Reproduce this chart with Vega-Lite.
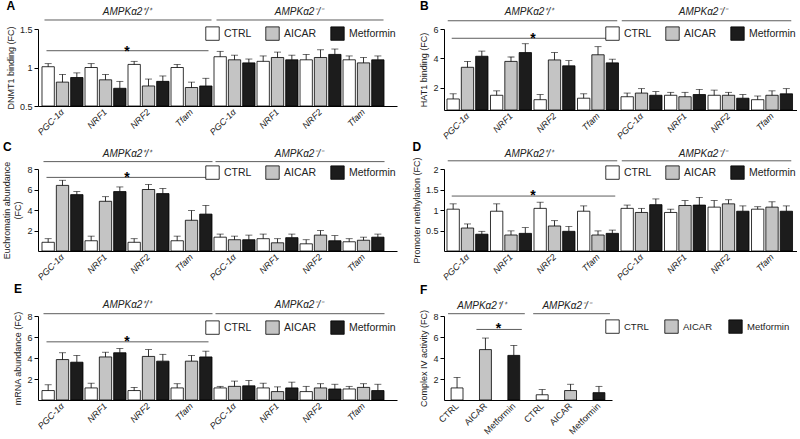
{
"$schema":"https://vega.github.io/schema/vega-lite/v6.json",
"padding":{"left":2,"top":0,"right":0,"bottom":0},
"config":{"font":"Liberation Sans","view":{"stroke":null},
 "title":{"anchor":"start","frame":"bounds","fontSize":12,"fontWeight":"bold","offset":-3,"color":"black"},
 "axis":{"grid":false,"domainColor":"black","tickColor":"black","tickSize":4,"labelFontSize":9,"titleFontSize":9,"titleFontWeight":"normal","labelColor":"#222","titleColor":"#222","labelPadding":2,"titlePadding":4,"labelOverlap":false},
 "axisX":{"ticks":false,"labelAngle":-45,"labelAlign":"right","labelBaseline":"middle","labelPadding":4},
 "text":{"align":"center","baseline":"middle"},
 "legend":{"orient":"none","direction":"horizontal","symbolType":"square","symbolSize":180,"symbolStrokeColor":"black","symbolStrokeWidth":0.8,"labelFontSize":10.5,"labelOffset":4,"columnPadding":12,"padding":0,"labelColor":"#222"}
},
"datasets":{
"dA":[
{"cat":"PGC-1α|WT","treatment":"CTRL","value":1.01,"upper":1.05},{"cat":"PGC-1α|WT","treatment":"AICAR","value":0.81,"upper":0.91},{"cat":"PGC-1α|WT","treatment":"Metformin","value":0.87,"upper":0.93},
{"cat":"NRF1|WT","treatment":"CTRL","value":1.0,"upper":1.05},{"cat":"NRF1|WT","treatment":"AICAR","value":0.84,"upper":0.91},{"cat":"NRF1|WT","treatment":"Metformin","value":0.73,"upper":0.82},
{"cat":"NRF2|WT","treatment":"CTRL","value":1.04,"upper":1.08},{"cat":"NRF2|WT","treatment":"AICAR","value":0.76,"upper":0.85},{"cat":"NRF2|WT","treatment":"Metformin","value":0.82,"upper":0.89},
{"cat":"Tfam|WT","treatment":"CTRL","value":1.0,"upper":1.04},{"cat":"Tfam|WT","treatment":"AICAR","value":0.74,"upper":0.81},{"cat":"Tfam|WT","treatment":"Metformin","value":0.76,"upper":0.86},
{"cat":"PGC-1α|KO","treatment":"CTRL","value":1.14,"upper":1.21},{"cat":"PGC-1α|KO","treatment":"AICAR","value":1.10,"upper":1.16},{"cat":"PGC-1α|KO","treatment":"Metformin","value":1.06,"upper":1.11},
{"cat":"NRF1|KO","treatment":"CTRL","value":1.08,"upper":1.15},{"cat":"NRF1|KO","treatment":"AICAR","value":1.13,"upper":1.20},{"cat":"NRF1|KO","treatment":"Metformin","value":1.10,"upper":1.16},
{"cat":"NRF2|KO","treatment":"CTRL","value":1.10,"upper":1.17},{"cat":"NRF2|KO","treatment":"AICAR","value":1.13,"upper":1.23},{"cat":"NRF2|KO","treatment":"Metformin","value":1.17,"upper":1.24},
{"cat":"Tfam|KO","treatment":"CTRL","value":1.10,"upper":1.15},{"cat":"Tfam|KO","treatment":"AICAR","value":1.06,"upper":1.13},{"cat":"Tfam|KO","treatment":"Metformin","value":1.10,"upper":1.15}],
"dB":[
{"cat":"PGC-1α|WT","treatment":"CTRL","value":1.25,"upper":1.6},{"cat":"PGC-1α|WT","treatment":"AICAR","value":3.4,"upper":3.8},{"cat":"PGC-1α|WT","treatment":"Metformin","value":4.15,"upper":4.5},
{"cat":"NRF1|WT","treatment":"CTRL","value":1.5,"upper":1.8},{"cat":"NRF1|WT","treatment":"AICAR","value":3.8,"upper":4.1},{"cat":"NRF1|WT","treatment":"Metformin","value":4.4,"upper":5.0},
{"cat":"NRF2|WT","treatment":"CTRL","value":1.2,"upper":1.55},{"cat":"NRF2|WT","treatment":"AICAR","value":3.9,"upper":4.4},{"cat":"NRF2|WT","treatment":"Metformin","value":3.5,"upper":3.85},
{"cat":"Tfam|WT","treatment":"CTRL","value":1.3,"upper":1.6},{"cat":"Tfam|WT","treatment":"AICAR","value":4.25,"upper":4.8},{"cat":"Tfam|WT","treatment":"Metformin","value":3.7,"upper":3.95},
{"cat":"PGC-1α|KO","treatment":"CTRL","value":1.4,"upper":1.65},{"cat":"PGC-1α|KO","treatment":"AICAR","value":1.65,"upper":1.95},{"cat":"PGC-1α|KO","treatment":"Metformin","value":1.5,"upper":1.75},
{"cat":"NRF1|KO","treatment":"CTRL","value":1.5,"upper":1.7},{"cat":"NRF1|KO","treatment":"AICAR","value":1.4,"upper":1.7},{"cat":"NRF1|KO","treatment":"Metformin","value":1.55,"upper":1.9},
{"cat":"NRF2|KO","treatment":"CTRL","value":1.5,"upper":1.85},{"cat":"NRF2|KO","treatment":"AICAR","value":1.5,"upper":1.7},{"cat":"NRF2|KO","treatment":"Metformin","value":1.3,"upper":1.55},
{"cat":"Tfam|KO","treatment":"CTRL","value":1.2,"upper":1.45},{"cat":"Tfam|KO","treatment":"AICAR","value":1.5,"upper":1.8},{"cat":"Tfam|KO","treatment":"Metformin","value":1.6,"upper":1.95}],
"dC":[
{"cat":"PGC-1α|WT","treatment":"CTRL","value":0.85,"upper":1.2},{"cat":"PGC-1α|WT","treatment":"AICAR","value":6.4,"upper":6.9},{"cat":"PGC-1α|WT","treatment":"Metformin","value":5.5,"upper":5.8},
{"cat":"NRF1|WT","treatment":"CTRL","value":1.0,"upper":1.45},{"cat":"NRF1|WT","treatment":"AICAR","value":4.85,"upper":5.3},{"cat":"NRF1|WT","treatment":"Metformin","value":5.8,"upper":6.25},
{"cat":"NRF2|WT","treatment":"CTRL","value":0.85,"upper":1.2},{"cat":"NRF2|WT","treatment":"AICAR","value":6.0,"upper":6.5},{"cat":"NRF2|WT","treatment":"Metformin","value":5.6,"upper":6.1},
{"cat":"Tfam|WT","treatment":"CTRL","value":1.0,"upper":1.45},{"cat":"Tfam|WT","treatment":"AICAR","value":3.0,"upper":3.95},{"cat":"Tfam|WT","treatment":"Metformin","value":3.6,"upper":4.45},
{"cat":"PGC-1α|KO","treatment":"CTRL","value":1.35,"upper":1.65},{"cat":"PGC-1α|KO","treatment":"AICAR","value":1.1,"upper":1.45},{"cat":"PGC-1α|KO","treatment":"Metformin","value":1.1,"upper":1.55},
{"cat":"NRF1|KO","treatment":"CTRL","value":1.2,"upper":1.65},{"cat":"NRF1|KO","treatment":"AICAR","value":0.8,"upper":1.2},{"cat":"NRF1|KO","treatment":"Metformin","value":1.3,"upper":1.65},
{"cat":"NRF2|KO","treatment":"CTRL","value":0.7,"upper":1.1},{"cat":"NRF2|KO","treatment":"AICAR","value":1.55,"upper":2.0},{"cat":"NRF2|KO","treatment":"Metformin","value":1.0,"upper":1.5},
{"cat":"Tfam|KO","treatment":"CTRL","value":0.9,"upper":1.2},{"cat":"Tfam|KO","treatment":"AICAR","value":1.05,"upper":1.35},{"cat":"Tfam|KO","treatment":"Metformin","value":1.35,"upper":1.65}],
"dD":[
{"cat":"PGC-1α|WT","treatment":"CTRL","value":1.02,"upper":1.15},{"cat":"PGC-1α|WT","treatment":"AICAR","value":0.56,"upper":0.66},{"cat":"PGC-1α|WT","treatment":"Metformin","value":0.41,"upper":0.48},
{"cat":"NRF1|WT","treatment":"CTRL","value":0.97,"upper":1.15},{"cat":"NRF1|WT","treatment":"AICAR","value":0.39,"upper":0.49},{"cat":"NRF1|WT","treatment":"Metformin","value":0.43,"upper":0.57},
{"cat":"NRF2|WT","treatment":"CTRL","value":1.04,"upper":1.19},{"cat":"NRF2|WT","treatment":"AICAR","value":0.61,"upper":0.74},{"cat":"NRF2|WT","treatment":"Metformin","value":0.48,"upper":0.6},
{"cat":"Tfam|WT","treatment":"CTRL","value":0.97,"upper":1.1},{"cat":"Tfam|WT","treatment":"AICAR","value":0.39,"upper":0.49},{"cat":"Tfam|WT","treatment":"Metformin","value":0.43,"upper":0.51},
{"cat":"PGC-1α|KO","treatment":"CTRL","value":1.04,"upper":1.12},{"cat":"PGC-1α|KO","treatment":"AICAR","value":0.94,"upper":1.04},{"cat":"PGC-1α|KO","treatment":"Metformin","value":1.13,"upper":1.27},
{"cat":"NRF1|KO","treatment":"CTRL","value":0.94,"upper":1.02},{"cat":"NRF1|KO","treatment":"AICAR","value":1.11,"upper":1.23},{"cat":"NRF1|KO","treatment":"Metformin","value":1.12,"upper":1.31},
{"cat":"NRF2|KO","treatment":"CTRL","value":1.07,"upper":1.23},{"cat":"NRF2|KO","treatment":"AICAR","value":1.15,"upper":1.25},{"cat":"NRF2|KO","treatment":"Metformin","value":0.97,"upper":1.1},
{"cat":"Tfam|KO","treatment":"CTRL","value":1.02,"upper":1.08},{"cat":"Tfam|KO","treatment":"AICAR","value":1.07,"upper":1.2},{"cat":"Tfam|KO","treatment":"Metformin","value":0.97,"upper":1.1}],
"dE":[
{"cat":"PGC-1α|WT","treatment":"CTRL","value":0.9,"upper":1.45},{"cat":"PGC-1α|WT","treatment":"AICAR","value":3.85,"upper":4.5},{"cat":"PGC-1α|WT","treatment":"Metformin","value":3.6,"upper":4.25},
{"cat":"NRF1|WT","treatment":"CTRL","value":1.15,"upper":1.6},{"cat":"NRF1|WT","treatment":"AICAR","value":4.1,"upper":4.55},{"cat":"NRF1|WT","treatment":"Metformin","value":4.5,"upper":4.9},
{"cat":"NRF2|WT","treatment":"CTRL","value":0.9,"upper":1.2},{"cat":"NRF2|WT","treatment":"AICAR","value":4.15,"upper":4.8},{"cat":"NRF2|WT","treatment":"Metformin","value":3.7,"upper":4.35},
{"cat":"Tfam|WT","treatment":"CTRL","value":1.15,"upper":1.55},{"cat":"Tfam|WT","treatment":"AICAR","value":3.7,"upper":4.25},{"cat":"Tfam|WT","treatment":"Metformin","value":4.1,"upper":4.65},
{"cat":"PGC-1α|KO","treatment":"CTRL","value":1.15,"upper":1.3},{"cat":"PGC-1α|KO","treatment":"AICAR","value":1.3,"upper":1.8},{"cat":"PGC-1α|KO","treatment":"Metformin","value":1.35,"upper":1.85},
{"cat":"NRF1|KO","treatment":"CTRL","value":1.15,"upper":1.6},{"cat":"NRF1|KO","treatment":"AICAR","value":0.8,"upper":1.25},{"cat":"NRF1|KO","treatment":"Metformin","value":1.15,"upper":1.7},
{"cat":"NRF2|KO","treatment":"CTRL","value":0.8,"upper":1.3},{"cat":"NRF2|KO","treatment":"AICAR","value":1.15,"upper":1.55},{"cat":"NRF2|KO","treatment":"Metformin","value":1.05,"upper":1.5},
{"cat":"Tfam|KO","treatment":"CTRL","value":1.05,"upper":1.3},{"cat":"Tfam|KO","treatment":"AICAR","value":1.2,"upper":1.55},{"cat":"Tfam|KO","treatment":"Metformin","value":0.9,"upper":1.5}],
"dF":[
{"cat":"CTRL|WT","treatment":"CTRL","value":1.15,"upper":2.15},{"cat":"AICAR|WT","treatment":"AICAR","value":4.8,"upper":5.9},{"cat":"Metformin|WT","treatment":"Metformin","value":4.25,"upper":5.2},
{"cat":"CTRL|KO","treatment":"CTRL","value":0.5,"upper":1.0},{"cat":"AICAR|KO","treatment":"AICAR","value":0.9,"upper":1.5},{"cat":"Metformin|KO","treatment":"Metformin","value":0.7,"upper":1.3}],
"groups8":[{"label":"AMPKα2⁺/⁺","from":"PGC-1α|WT","to":"Tfam|WT","mid":"NRF2|WT"},{"label":"AMPKα2⁻/⁻","from":"PGC-1α|KO","to":"Tfam|KO","mid":"NRF2|KO"}],
"sig8":[{"from":"PGC-1α|WT","to":"Tfam|WT","mid":"NRF2|WT"}],
"groups6":[{"label":"AMPKα2⁺/⁺","from":"CTRL|WT","to":"Metformin|WT","mid":"AICAR|WT"},{"label":"AMPKα2⁻/⁻","from":"CTRL|KO","to":"Metformin|KO","mid":"AICAR|KO"}],
"sig6":[{"from":"AICAR|WT","to":"Metformin|WT","mid":"AICAR|WT"}]
},
"columns":2,
"spacing":{"row":0,"column":15},
"resolve":{"scale":{"fill":"independent","x":"independent","y":"independent"},"legend":{"fill":"independent"}},
"concat":[
{"title":{"text":"A","offset":-6},"width":359,"height":77,"data":{"name":"dA"},
 "resolve":{"axis":{"x":"independent","y":"independent"}},
 "encoding":{"x":{"field":"cat","type":"nominal","title":null,"scale":{"domain":["PGC-1α|WT","NRF1|WT","NRF2|WT","Tfam|WT","PGC-1α|KO","NRF1|KO","NRF2|KO","Tfam|KO"],"paddingInner":0,"paddingOuter":0.174,"align":0.2},"axis":null}},
 "layer":[
  {"mark":{"type":"bar","stroke":"black","strokeWidth":0.8},"encoding":{"x":{"field":"cat","type":"nominal","title":null,"axis":{"labelExpr":"split(datum.label,'|')[0]","labelFontStyle":"italic"}},"xOffset":{"field":"treatment","type":"nominal","scale":{"domain":["CTRL","AICAR","Metformin"],"paddingInner":0.14,"paddingOuter":0.07}},"y":{"field":"value","type":"quantitative","stack":null,"title":"DNMT1 binding (FC)","scale":{"domain":[0.5,1.5],"nice":false,"zero":false},"axis":{"values":[0.5,1,1.5],"format":"~g"}},"fill":{"field":"treatment","type":"nominal","scale":{"domain":["CTRL","AICAR","Metformin"],"range":["white","#c4c4c4","#1c1c1c"]},"legend":{"title":null,"legendX":167,"legendY":-3}}}},
  {"mark":{"type":"rule","color":"black","strokeWidth":0.8},"encoding":{"xOffset":{"field":"treatment","type":"nominal"},"y":{"field":"value","type":"quantitative","axis":null},"y2":{"field":"upper"}}},
  {"mark":{"type":"tick","color":"black","size":7,"thickness":0.8},"encoding":{"xOffset":{"field":"treatment","type":"nominal"},"y":{"field":"upper","type":"quantitative","axis":null}}},
  {"data":{"name":"groups8"},"mark":{"type":"rule","color":"#333","strokeWidth":0.8,"xOffset":-18,"x2Offset":20},"encoding":{"x":{"field":"from","type":"nominal","axis":null},"x2":{"field":"to"},"y":{"datum":1.617,"axis":null}}},
  {"data":{"name":"groups8"},"mark":{"type":"text","align":"center","fontStyle":"italic","fontSize":10,"color":"#222"},"encoding":{"x":{"field":"mid","type":"nominal","axis":null,"bandPosition":0},"y":{"datum":1.72,"axis":null},"text":{"field":"label"}}},
  {"data":{"name":"sig8"},"mark":{"type":"rule","color":"#333","strokeWidth":0.8,"xOffset":-16,"x2Offset":17},"encoding":{"x":{"field":"from","type":"nominal","axis":null},"x2":{"field":"to"},"y":{"datum":1.218,"axis":null}}},
  {"data":{"name":"sig8"},"mark":{"type":"text","align":"center","text":"*","fontSize":14,"fontWeight":"bold","dy":4,"color":"black"},"encoding":{"x":{"field":"mid","type":"nominal","axis":null,"bandPosition":0},"y":{"datum":1.25,"axis":null}}}
 ]},
{"title":{"text":"B","offset":-6},"width":353,"height":81,"data":{"name":"dB"},
 "resolve":{"axis":{"x":"independent","y":"independent"}},
 "encoding":{"x":{"field":"cat","type":"nominal","title":null,"scale":{"domain":["PGC-1α|WT","NRF1|WT","NRF2|WT","Tfam|WT","PGC-1α|KO","NRF1|KO","NRF2|KO","Tfam|KO"],"paddingInner":0,"paddingOuter":0.057,"align":0.4},"axis":null}},
 "layer":[
  {"mark":{"type":"bar","stroke":"black","strokeWidth":0.8},"encoding":{"x":{"field":"cat","type":"nominal","title":null,"axis":{"labelExpr":"split(datum.label,'|')[0]","labelFontStyle":"italic"}},"xOffset":{"field":"treatment","type":"nominal","scale":{"domain":["CTRL","AICAR","Metformin"],"paddingInner":0.14,"paddingOuter":0.07}},"y":{"field":"value","type":"quantitative","stack":null,"title":"HAT1 binding (FC)","scale":{"domain":[0.5,6],"nice":false,"zero":false},"axis":{"values":[2,4,6],"format":"~g"}},"fill":{"field":"treatment","type":"nominal","scale":{"domain":["CTRL","AICAR","Metformin"],"range":["white","#c4c4c4","#1c1c1c"]},"legend":{"title":null,"legendX":161,"legendY":-3}}}},
  {"mark":{"type":"rule","color":"black","strokeWidth":0.8},"encoding":{"xOffset":{"field":"treatment","type":"nominal"},"y":{"field":"value","type":"quantitative","axis":null},"y2":{"field":"upper"}}},
  {"mark":{"type":"tick","color":"black","size":7,"thickness":0.8},"encoding":{"xOffset":{"field":"treatment","type":"nominal"},"y":{"field":"upper","type":"quantitative","axis":null}}},
  {"data":{"name":"groups8"},"mark":{"type":"rule","color":"#333","strokeWidth":0.8,"xOffset":-20,"x2Offset":19},"encoding":{"x":{"field":"from","type":"nominal","axis":null},"x2":{"field":"to"},"y":{"datum":6.56,"axis":null}}},
  {"data":{"name":"groups8"},"mark":{"type":"text","align":"center","fontStyle":"italic","fontSize":10,"color":"#222","dx":-4},"encoding":{"x":{"field":"mid","type":"nominal","axis":null,"bandPosition":0},"y":{"datum":7.13,"axis":null},"text":{"field":"label"}}},
  {"data":{"name":"sig8"},"mark":{"type":"rule","color":"#333","strokeWidth":0.8,"xOffset":-16,"x2Offset":17},"encoding":{"x":{"field":"from","type":"nominal","axis":null},"x2":{"field":"to"},"y":{"datum":5.37,"axis":null}}},
  {"data":{"name":"sig8"},"mark":{"type":"text","align":"center","text":"*","fontSize":14,"fontWeight":"bold","dy":4,"color":"black"},"encoding":{"x":{"field":"mid","type":"nominal","axis":null,"bandPosition":0},"y":{"datum":5.6,"axis":null}}}
 ]},
{"title":{"text":"C","offset":-5},"width":359,"height":82,"data":{"name":"dC"},
 "resolve":{"axis":{"x":"independent","y":"independent"}},
 "encoding":{"x":{"field":"cat","type":"nominal","title":null,"scale":{"domain":["PGC-1α|WT","NRF1|WT","NRF2|WT","Tfam|WT","PGC-1α|KO","NRF1|KO","NRF2|KO","Tfam|KO"],"paddingInner":0,"paddingOuter":0.174,"align":0.2},"axis":null}},
 "layer":[
  {"mark":{"type":"bar","stroke":"black","strokeWidth":0.8},"encoding":{"x":{"field":"cat","type":"nominal","title":null,"axis":{"labelExpr":"split(datum.label,'|')[0]","labelFontStyle":"italic"}},"xOffset":{"field":"treatment","type":"nominal","scale":{"domain":["CTRL","AICAR","Metformin"],"paddingInner":0.14,"paddingOuter":0.07}},"y":{"field":"value","type":"quantitative","stack":null,"title":["Euchromatin abundance","(FC)"],"scale":{"domain":[0,8],"nice":false},"axis":{"values":[2,4,6,8],"format":"~g"}},"fill":{"field":"treatment","type":"nominal","scale":{"domain":["CTRL","AICAR","Metformin"],"range":["white","#c4c4c4","#1c1c1c"]},"legend":{"title":null,"legendX":167,"legendY":-4}}}},
  {"mark":{"type":"rule","color":"black","strokeWidth":0.8},"encoding":{"xOffset":{"field":"treatment","type":"nominal"},"y":{"field":"value","type":"quantitative","axis":null},"y2":{"field":"upper"}}},
  {"mark":{"type":"tick","color":"black","size":7,"thickness":0.8},"encoding":{"xOffset":{"field":"treatment","type":"nominal"},"y":{"field":"upper","type":"quantitative","axis":null}}},
  {"data":{"name":"groups8"},"mark":{"type":"rule","color":"#333","strokeWidth":0.8,"xOffset":-19,"x2Offset":21},"encoding":{"x":{"field":"from","type":"nominal","axis":null},"x2":{"field":"to"},"y":{"datum":8.72,"axis":null}}},
  {"data":{"name":"groups8"},"mark":{"type":"text","align":"center","fontStyle":"italic","fontSize":10,"color":"#222"},"encoding":{"x":{"field":"mid","type":"nominal","axis":null,"bandPosition":0},"y":{"datum":9.45,"axis":null},"text":{"field":"label"}}},
  {"data":{"name":"sig8"},"mark":{"type":"rule","color":"#333","strokeWidth":0.8,"xOffset":-16,"x2Offset":15},"encoding":{"x":{"field":"from","type":"nominal","axis":null},"x2":{"field":"to"},"y":{"datum":7.18,"axis":null}}},
  {"data":{"name":"sig8"},"mark":{"type":"text","align":"center","text":"*","fontSize":14,"fontWeight":"bold","dy":4,"color":"black"},"encoding":{"x":{"field":"mid","type":"nominal","axis":null,"bandPosition":0},"y":{"datum":7.5,"axis":null}}}
 ]},
{"title":{"text":"D","offset":-5},"width":353,"height":82,"data":{"name":"dD"},
 "resolve":{"axis":{"x":"independent","y":"independent"}},
 "encoding":{"x":{"field":"cat","type":"nominal","title":null,"scale":{"domain":["PGC-1α|WT","NRF1|WT","NRF2|WT","Tfam|WT","PGC-1α|KO","NRF1|KO","NRF2|KO","Tfam|KO"],"paddingInner":0,"paddingOuter":0.057,"align":0.4},"axis":null}},
 "layer":[
  {"mark":{"type":"bar","stroke":"black","strokeWidth":0.8},"encoding":{"x":{"field":"cat","type":"nominal","title":null,"axis":{"labelExpr":"split(datum.label,'|')[0]","labelFontStyle":"italic"}},"xOffset":{"field":"treatment","type":"nominal","scale":{"domain":["CTRL","AICAR","Metformin"],"paddingInner":0.14,"paddingOuter":0.07}},"y":{"field":"value","type":"quantitative","stack":null,"title":"Promoter methylation (FC)","scale":{"domain":[0,2],"nice":false},"axis":{"values":[0.5,1,1.5,2],"format":"~g"}},"fill":{"field":"treatment","type":"nominal","scale":{"domain":["CTRL","AICAR","Metformin"],"range":["white","#c4c4c4","#1c1c1c"]},"legend":{"title":null,"legendX":161,"legendY":-4}}}},
  {"mark":{"type":"rule","color":"black","strokeWidth":0.8},"encoding":{"xOffset":{"field":"treatment","type":"nominal"},"y":{"field":"value","type":"quantitative","axis":null},"y2":{"field":"upper"}}},
  {"mark":{"type":"tick","color":"black","size":7,"thickness":0.8},"encoding":{"xOffset":{"field":"treatment","type":"nominal"},"y":{"field":"upper","type":"quantitative","axis":null}}},
  {"data":{"name":"groups8"},"mark":{"type":"rule","color":"#333","strokeWidth":0.8,"xOffset":-20,"x2Offset":19},"encoding":{"x":{"field":"from","type":"nominal","axis":null},"x2":{"field":"to"},"y":{"datum":2.2,"axis":null}}},
  {"data":{"name":"groups8"},"mark":{"type":"text","align":"center","fontStyle":"italic","fontSize":10,"color":"#222","dx":-4},"encoding":{"x":{"field":"mid","type":"nominal","axis":null,"bandPosition":0},"y":{"datum":2.36,"axis":null},"text":{"field":"label"}}},
  {"data":{"name":"sig8"},"mark":{"type":"rule","color":"#333","strokeWidth":0.8,"xOffset":-16,"x2Offset":17},"encoding":{"x":{"field":"from","type":"nominal","axis":null},"x2":{"field":"to"},"y":{"datum":1.34,"axis":null}}},
  {"data":{"name":"sig8"},"mark":{"type":"text","align":"center","text":"*","fontSize":14,"fontWeight":"bold","dy":4,"color":"black"},"encoding":{"x":{"field":"mid","type":"nominal","axis":null,"bandPosition":0},"y":{"datum":1.44,"axis":null}}}
 ]},
{"title":{"text":"E","offset":4},"width":359,"height":84,"data":{"name":"dE"},
 "resolve":{"axis":{"x":"independent","y":"independent"}},
 "encoding":{"x":{"field":"cat","type":"nominal","title":null,"scale":{"domain":["PGC-1α|WT","NRF1|WT","NRF2|WT","Tfam|WT","PGC-1α|KO","NRF1|KO","NRF2|KO","Tfam|KO"],"paddingInner":0,"paddingOuter":0.174,"align":0.2},"axis":null}},
 "layer":[
  {"mark":{"type":"bar","stroke":"black","strokeWidth":0.8},"encoding":{"x":{"field":"cat","type":"nominal","title":null,"axis":{"labelExpr":"split(datum.label,'|')[0]","labelFontStyle":"italic"}},"xOffset":{"field":"treatment","type":"nominal","scale":{"domain":["CTRL","AICAR","Metformin"],"paddingInner":0.14,"paddingOuter":0.07}},"y":{"field":"value","type":"quantitative","stack":null,"title":"mRNA abundance (FC)","scale":{"domain":[0,8],"nice":false},"axis":{"values":[2,4,6,8],"format":"~g"}},"fill":{"field":"treatment","type":"nominal","scale":{"domain":["CTRL","AICAR","Metformin"],"range":["white","#c4c4c4","#1c1c1c"]},"legend":{"title":null,"legendX":167,"legendY":4}}}},
  {"mark":{"type":"rule","color":"black","strokeWidth":0.8},"encoding":{"xOffset":{"field":"treatment","type":"nominal"},"y":{"field":"value","type":"quantitative","axis":null},"y2":{"field":"upper"}}},
  {"mark":{"type":"tick","color":"black","size":7,"thickness":0.8},"encoding":{"xOffset":{"field":"treatment","type":"nominal"},"y":{"field":"upper","type":"quantitative","axis":null}}},
  {"data":{"name":"groups8"},"mark":{"type":"rule","color":"#333","strokeWidth":0.8,"xOffset":-19,"x2Offset":21},"encoding":{"x":{"field":"from","type":"nominal","axis":null},"x2":{"field":"to"},"y":{"datum":8.22,"axis":null}}},
  {"data":{"name":"groups8"},"mark":{"type":"text","align":"center","fontStyle":"italic","fontSize":10,"color":"#222"},"encoding":{"x":{"field":"mid","type":"nominal","axis":null,"bandPosition":0},"y":{"datum":9.05,"axis":null},"text":{"field":"label"}}},
  {"data":{"name":"sig8"},"mark":{"type":"rule","color":"#333","strokeWidth":0.8,"xOffset":-16,"x2Offset":17},"encoding":{"x":{"field":"from","type":"nominal","axis":null},"x2":{"field":"to"},"y":{"datum":5.54,"axis":null}}},
  {"data":{"name":"sig8"},"mark":{"type":"text","align":"center","text":"*","fontSize":14,"fontWeight":"bold","dy":4,"color":"black"},"encoding":{"x":{"field":"mid","type":"nominal","axis":null,"bandPosition":0},"y":{"datum":5.92,"axis":null}}}
 ]},
{"title":{"text":"F","offset":4},"width":168,"height":84,"data":{"name":"dF"},
 "resolve":{"axis":{"x":"independent","y":"independent"}},
 "encoding":{"x":{"field":"cat","type":"nominal","title":null,"scale":{"domain":["CTRL|WT","AICAR|WT","Metformin|WT","CTRL|KO","AICAR|KO","Metformin|KO"],"paddingInner":0.58,"paddingOuter":0.25},"axis":null}},
 "layer":[
  {"mark":{"type":"bar","stroke":"black","strokeWidth":0.8},"encoding":{"x":{"field":"cat","type":"nominal","title":null,"axis":{"labelExpr":"split(datum.label,'|')[0]"}},"y":{"field":"value","type":"quantitative","stack":null,"title":"Complex IV activity (FC)","scale":{"domain":[0,8],"nice":false},"axis":{"values":[2,4,6,8],"format":"~g"}},"fill":{"field":"treatment","type":"nominal","scale":{"domain":["CTRL","AICAR","Metformin"],"range":["white","#c4c4c4","#1c1c1c"]},"legend":{"title":null,"legendX":161,"legendY":3,"columnPadding":14,"labelFontSize":9.5}}}},
  {"mark":{"type":"rule","color":"black","strokeWidth":0.8},"encoding":{"y":{"field":"value","type":"quantitative","axis":null},"y2":{"field":"upper"}}},
  {"mark":{"type":"tick","color":"black","size":7,"thickness":0.8},"encoding":{"y":{"field":"upper","type":"quantitative","axis":null}}},
  {"data":{"name":"groups6"},"mark":{"type":"rule","color":"#333","strokeWidth":0.8,"xOffset":-9,"x2Offset":11},"encoding":{"x":{"field":"from","type":"nominal","axis":null},"x2":{"field":"to"},"y":{"datum":8.22,"axis":null}}},
  {"data":{"name":"groups6"},"mark":{"type":"text","align":"center","fontStyle":"italic","fontSize":10,"color":"#222","dx":-4},"encoding":{"x":{"field":"mid","type":"nominal","axis":null},"y":{"datum":8.96,"axis":null},"text":{"field":"label"}}},
  {"data":{"name":"sig6"},"mark":{"type":"rule","color":"#333","strokeWidth":0.8,"xOffset":-9,"x2Offset":8},"encoding":{"x":{"field":"from","type":"nominal","axis":null},"x2":{"field":"to"},"y":{"datum":6.72,"axis":null}}},
  {"data":{"name":"sig6"},"mark":{"type":"text","align":"center","text":"*","fontSize":14,"fontWeight":"bold","dy":4,"dx":13,"color":"black"},"encoding":{"x":{"field":"mid","type":"nominal","axis":null},"y":{"datum":7.1,"axis":null}}}
 ]}
]
}
